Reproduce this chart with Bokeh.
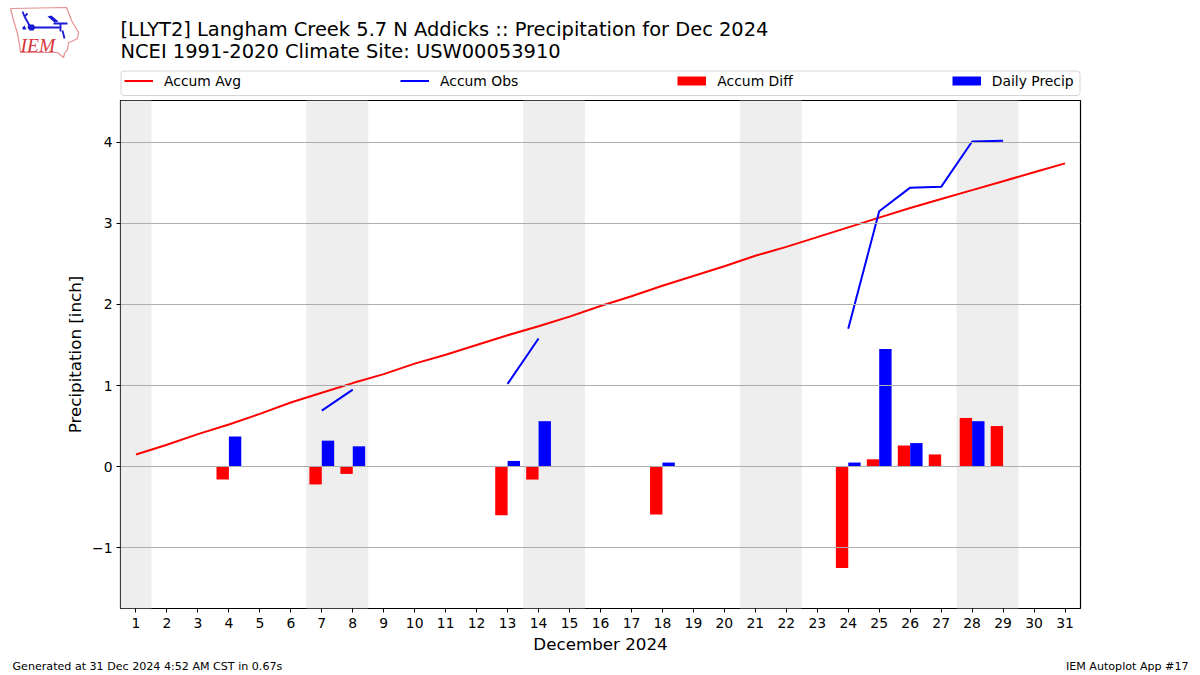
from bokeh.plotting import figure
from bokeh.layouts import column
from bokeh.models import Range1d, FixedTicker, BoxAnnotation, Legend, LegendItem, ColumnDataSource
from bokeh.core.properties import value
from bokeh.embed import file_html
from bokeh.resources import INLINE

FONT = "DejaVu Sans"
TITLE_1 = "[LLYT2] Langham Creek 5.7 N Addicks :: Precipitation for Dec 2024"
TITLE_2 = "NCEI 1991-2020 Climate Site: USW00053910"
FOOT_L = "Generated at 31 Dec 2024 4:52 AM CST in 0.67s"
FOOT_R = "IEM Autoplot App #17"
nan = float("nan")

days = list(range(1, 32))
accum_avg = [0.15, 0.27, 0.40, 0.52, 0.65, 0.79, 0.91, 1.03, 1.14, 1.27, 1.38, 1.50, 1.62, 1.73, 1.85, 1.98,
             2.10, 2.23, 2.35, 2.47, 2.60, 2.71, 2.83, 2.95, 3.07, 3.19, 3.30, 3.41, 3.52, 3.63, 3.74]
accum_obs = [nan, nan, nan, 0.37, nan, nan, 0.69, 0.95, nan, nan, nan, nan, 1.02, 1.58, nan, nan,
             nan, 1.64, nan, nan, nan, nan, nan, 1.70, 3.15, 3.44, 3.45, 4.01, 4.02, nan, nan]
bar_days = [4, 7, 8, 13, 14, 18, 24, 25, 26, 27, 28, 29]
accum_diff = [-0.16, -0.22, -0.09, -0.60, -0.16, -0.59, -1.25, 0.09, 0.26, 0.15, 0.60, 0.50]
daily_precip = [0.37, 0.32, 0.25, 0.07, 0.56, 0.05, 0.05, 1.45, 0.29, 0.0, 0.56, 0.0]
weekends = [(0.5, 1.5), (6.5, 8.5), (13.5, 15.5), (20.5, 22.5), (27.5, 29.5)]

W = 1190

def blank(height):
    f = figure(width=W, height=height, output_backend="svg", toolbar_location=None,
               x_range=Range1d(0, W), y_range=Range1d(height, 0),
               x_axis_location=None, y_axis_location=None, frame_align=False,
               min_border_left=0, min_border_right=0, min_border_top=0, min_border_bottom=0)
    f.xgrid.visible = False
    f.ygrid.visible = False
    f.outline_line_color = None
    return f

def put_text(f, x, y, s, size, align="left", font=FONT, style="normal", color="#000000"):
    f.text([x], [y], text=[s], text_font=value(font), text_font_size=value(size), text_font_style=style,
           text_color=color, text_align=align, text_baseline="middle")

# ---------- header: logo, titles and legend
head = blank(100)
put_text(head, 120, 29, TITLE_1, "19.45px")
put_text(head, 120, 50.5, TITLE_2, "19.45px")

logo_outline = [(10, 8), (66, 7), (68, 12), (71, 20), (78, 32), (77, 38), (71, 41), (68, 42), (67, 49), (64, 53),
                (63, 57), (57, 52), (20, 52), (19, 44), (17, 33), (13, 20), (10, 8)]
logo_lines = [
    [(33, 27), (60, 27)],
    [(53, 23), (67, 23)],
    [(60, 23), (60, 31)],
    [(62, 30), (64, 38)],
    [(29, 25), (24, 16)],
    [(24, 16), (22, 11)],
    [(24, 16), (27, 13)],
]
logo_parts = [
    [(28, 24), (33, 24), (35, 27), (33, 30), (29, 30), (27, 27)],
    [(47, 16), (51, 15), (58, 21), (54, 22)],
    [(22, 27), (24, 25), (26, 29), (22, 29)],
]
head.line([a for a, _ in logo_outline], [b for _, b in logo_outline], line_color="#e58f8f", line_width=1.2)
for part in logo_lines:
    head.line([a for a, _ in part], [b for _, b in part], line_color="#1a1ad6", line_width=1.8)
for part in logo_parts:
    head.patch([a for a, _ in part], [b for _, b in part], fill_color="#1a1ad6", line_color=None)
put_text(head, 20, 45, "IEM", "19.5px", font="Liberation Serif", style="italic", color="#d8363c")

head.quad(left=[120.5], right=[1079.5], top=[70.5], bottom=[95], fill_color="#ffffff", line_color="#d5d5d5",
          line_width=1, border_radius=3)
key_src = ColumnDataSource(dict(x=[-50, -40], y=[-50, -40]))
k_avg = head.line("x", "y", source=key_src, line_color="#ff0000", line_width=2)
k_obs = head.line("x", "y", source=key_src, line_color="#0000ff", line_width=2)
k_diff = head.line("x", "y", source=key_src, line_color="#ff0000", line_width=9, line_cap="butt")
k_rain = head.line("x", "y", source=key_src, line_color="#0000ff", line_width=9, line_cap="butt")
legend = Legend(items=[LegendItem(label="Accum Avg", renderers=[k_avg]),
                       LegendItem(label="Accum Obs", renderers=[k_obs]),
                       LegendItem(label="Accum Diff", renderers=[k_diff]),
                       LegendItem(label="Daily Precip", renderers=[k_rain])],
                orientation="horizontal", location=(124, 9),
                label_text_font=FONT, label_text_font_size="13.9px", label_text_color="#000000",
                glyph_width=29, glyph_height=21, label_standoff=11, spacing=159, margin=0, padding=2,
                border_line_color=None, background_fill_alpha=0, label_height=14)
head.add_layout(legend, "center")

# ---------- main chart
p = figure(width=W, height=558, output_backend="svg", toolbar_location=None, frame_align=False,
           x_range=Range1d(0.5, 31.5), y_range=Range1d(-1.75, 4.515),
           min_border_left=120, min_border_right=110, min_border_top=0, min_border_bottom=50)

for a, b in weekends:
    p.add_layout(BoxAnnotation(left=a, right=b, fill_color="#eeeeee", fill_alpha=1, line_alpha=0, level="underlay"))

p.xgrid.visible = False
p.ygrid.ticker = FixedTicker(ticks=[-1, 0, 1, 2, 3, 4])
p.ygrid.grid_line_color = "#adadad"
p.ygrid.grid_line_width = 1.1
p.ygrid.level = "glyph"

p.xaxis.ticker = FixedTicker(ticks=days)
p.yaxis.ticker = FixedTicker(ticks=[-1, 0, 1, 2, 3, 4])
p.yaxis.major_label_overrides = {-1: "\u22121"}
for ax in (p.xaxis[0], p.yaxis[0]):
    ax.major_label_text_font = FONT
    ax.major_label_text_font_size = "13.9px"
    ax.major_label_text_color = "#000000"
    ax.axis_label_text_font = FONT
    ax.axis_label_text_font_size = "16.7px"
    ax.axis_label_text_font_style = "normal"
    ax.axis_label_text_color = "#000000"
    ax.axis_line_color = None
    ax.major_tick_line_color = "#000000"
    ax.major_tick_line_width = 1
    ax.major_tick_in = 0
    ax.major_tick_out = 4
    ax.minor_tick_line_color = None
p.xaxis.axis_label = "December 2024"
p.xaxis.axis_label_standoff = 3
p.yaxis.axis_label = "Precipitation [inch]"
p.yaxis.major_label_standoff = 4
p.yaxis.axis_label_standoff = 4
p.outline_line_color = "#000000"
p.outline_line_width = 1.2

source = ColumnDataSource(dict(x=days, avg=accum_avg, obs=accum_obs))
bars = ColumnDataSource(dict(d=[x - 0.2 for x in bar_days], p=[x + 0.2 for x in bar_days],
                             diff=accum_diff, rain=daily_precip))
p.line("x", "avg", source=source, line_color="#ff0000", line_width=2)
p.line("x", "obs", source=source, line_color="#0000ff", line_width=2)
p.vbar(x="d", top="diff", bottom=0, width=0.4, source=bars, fill_color="#ff0000", line_color=None)
p.vbar(x="p", top="rain", bottom=0, width=0.4, source=bars, fill_color="#0000ff", line_color=None)

# ---------- footer
foot = blank(15)
put_text(foot, 12, 8, FOOT_L, "11.1px")
put_text(foot, 1188, 8, FOOT_R, "11.1px", "right")

page = column(head, p, foot, spacing=0)
open("out.html", "w").write(file_html(page, INLINE))
